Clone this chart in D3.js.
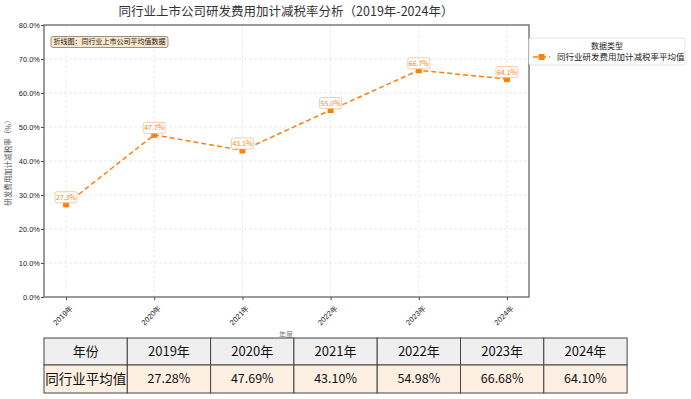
<!DOCTYPE html>
<html>
<head>
<meta charset="utf-8">
<script src="https://cdn.jsdelivr.net/npm/d3@7"></script>
<style>
  body { margin: 0; background: #fff; }
  svg { display: block; font-family: "Noto Sans CJK SC", "DejaVu Sans", sans-serif; }
</style>
</head>
<body>
<svg width="691" height="399"></svg>
<script>
var years = ["2019年", "2020年", "2021年", "2022年", "2023年", "2024年"];
var avgRate = [27.28, 47.69, 43.10, 54.98, 66.68, 64.10];
var yTicks = [0, 10, 20, 30, 40, 50, 60, 70, 80];
var rowHeader = "年份";
var rowLabel = "同行业平均值";
var seriesName = "同行业研发费用加计减税率平均值";

var orange = "#ff7f0e";

var svg = d3.select("svg");
var m = {left: 44, right: 529, top: 25, bottom: 297};

var x = d3.scalePoint().domain(years).range([m.left, m.right]).padding(0.25);
var y = d3.scaleLinear().domain([0, 80]).range([m.bottom, m.top]);

// grid
var grid = svg.append("g");
grid.selectAll(".hg").data(yTicks.slice(1, -1)).enter().append("line")
  .attr("x1", m.left).attr("x2", m.right)
  .attr("y1", d => y(d)).attr("y2", d => y(d))
  .attr("stroke", "#e2e2e2").attr("stroke-width", 0.7).attr("stroke-dasharray", "3,2");
grid.selectAll(".vg").data(years).enter().append("line")
  .attr("x1", d => x(d)).attr("x2", d => x(d))
  .attr("y1", m.top).attr("y2", m.bottom)
  .attr("stroke", "#e2e2e2").attr("stroke-width", 0.7).attr("stroke-dasharray", "3,2");

// axes
var yAxis = svg.append("g").attr("transform", "translate(" + m.left + ",0)")
  .call(d3.axisLeft(y).tickValues(yTicks).tickFormat(d => d.toFixed(1) + "%").tickSize(3).tickSizeOuter(0));
var xAxis = svg.append("g").attr("transform", "translate(0," + m.bottom + ")")
  .call(d3.axisBottom(x).tickSize(3).tickSizeOuter(0));
[yAxis, xAxis].forEach(function(a) {
  a.select(".domain").remove();
  a.selectAll(".tick line").attr("stroke", "#444");
  a.selectAll("text").attr("fill", "#222").style("font-size", "7.5px");
});
yAxis.selectAll("text").attr("x", -4);
xAxis.selectAll("text")
  .attr("text-anchor", "end")
  .attr("dx", 0).attr("dy", 0)
  .attr("transform", "translate(3,7) rotate(-45)");

// frame
svg.append("rect").attr("x", m.left).attr("y", m.top)
  .attr("width", m.right - m.left).attr("height", m.bottom - m.top)
  .attr("fill", "none").attr("stroke", "#666").attr("stroke-width", 1.3);

// line
var pts = years.map((d, i) => ({year: d, v: avgRate[i]}));
svg.append("path").datum(pts)
  .attr("fill", "none").attr("stroke", orange).attr("stroke-width", 1.5)
  .attr("stroke-dasharray", "5,3")
  .attr("d", d3.line().x(d => x(d.year)).y(d => y(d.v)));
svg.selectAll(".mk").data(pts).enter().append("rect")
  .attr("x", d => x(d.year) - 3).attr("y", d => y(d.v) - 3)
  .attr("width", 6).attr("height", 6).attr("fill", orange);

// value labels
var lab = svg.selectAll(".lab").data(pts).enter().append("g")
  .attr("transform", d => "translate(" + x(d.year) + "," + (y(d.v) - 7) + ")");
lab.append("rect").attr("x", -11).attr("y", -5.5).attr("width", 22).attr("height", 11)
  .attr("rx", 2).attr("fill", "#fff").attr("stroke", "#ffbe86").attr("stroke-width", 0.8);
lab.append("text").attr("text-anchor", "middle").attr("dy", "0.35em")
  .style("font-size", "7px").attr("fill", orange)
  .text(d => d.v.toFixed(1) + "%");

// title
svg.append("text").attr("x", 286).attr("y", 16).attr("text-anchor", "middle")
  .style("font-size", "12.5px").attr("fill", "#333")
  .text("同行业上市公司研发费用加计减税率分析（2019年-2024年）");

// annotation
svg.append("rect").attr("x", 51).attr("y", 36.5).attr("width", 117).attr("height", 11)
  .attr("rx", 2).attr("fill", "#f5e6cc").attr("stroke", "#8a7a60").attr("stroke-width", 0.8);
svg.append("text").attr("x", 109.5).attr("y", 42).attr("dy", "0.35em").attr("text-anchor", "middle")
  .style("font-size", "7px").attr("fill", "#222").text("折线图：同行业上市公司平均值数据");

// axis titles
svg.append("text").attr("transform", "translate(11,161) rotate(-90)").attr("text-anchor", "middle")
  .style("font-size", "7.5px").attr("fill", "#555").text("研发费用加计减税率（%）");
svg.append("text").attr("x", 286).attr("y", 337).attr("text-anchor", "middle")
  .style("font-size", "7px").attr("fill", "#777").text("年度");

// legend
var lg = svg.append("g").attr("transform", "translate(529,38)");
lg.append("rect").attr("width", 156).attr("height", 27).attr("rx", 2)
  .attr("fill", "#fff").attr("stroke", "#ddd").attr("stroke-width", 0.8);
lg.append("text").attr("x", 78).attr("y", 8).attr("dy", "0.35em").attr("text-anchor", "middle")
  .style("font-size", "8px").attr("fill", "#222").text("数据类型");
lg.append("line").attr("x1", 4).attr("x2", 21).attr("y1", 19).attr("y2", 19)
  .attr("stroke", orange).attr("stroke-width", 1.5).attr("stroke-dasharray", "5,3");
lg.append("rect").attr("x", 9.5).attr("y", 16).attr("width", 6).attr("height", 6).attr("fill", orange);
lg.append("text").attr("x", 28).attr("y", 19).attr("dy", "0.35em")
  .style("font-size", "8.5px").attr("fill", "#222").text(seriesName);

// table
var tx = 44, ty = 338, cw = 83.3, rh1 = 27, rh2 = 28;
var header = [rowHeader].concat(years);
var row = [rowLabel].concat(avgRate.map(v => v.toFixed(2) + "%"));
var tb = svg.append("g");
header.forEach(function(h, i) {
  tb.append("rect").attr("x", tx + i * cw).attr("y", ty).attr("width", cw).attr("height", rh1)
    .attr("fill", "#efefef").attr("stroke", "#444").attr("stroke-width", 1);
  tb.append("text").attr("x", tx + i * cw + cw / 2).attr("y", ty + rh1 / 2).attr("dy", "0.35em")
    .attr("text-anchor", "middle").style("font-size", "13px").attr("fill", "#111").text(h);
});
row.forEach(function(c, i) {
  tb.append("rect").attr("x", tx + i * cw).attr("y", ty + rh1).attr("width", cw).attr("height", rh2)
    .attr("fill", "#fdf0e3").attr("stroke", "#444").attr("stroke-width", 1);
  tb.append("text").attr("x", tx + i * cw + cw / 2).attr("y", ty + rh1 + rh2 / 2).attr("dy", "0.35em")
    .attr("text-anchor", "middle").style("font-size", i === 0 ? "13.5px" : "12.5px").attr("fill", "#111").text(c);
});
</script>
</body>
</html>
